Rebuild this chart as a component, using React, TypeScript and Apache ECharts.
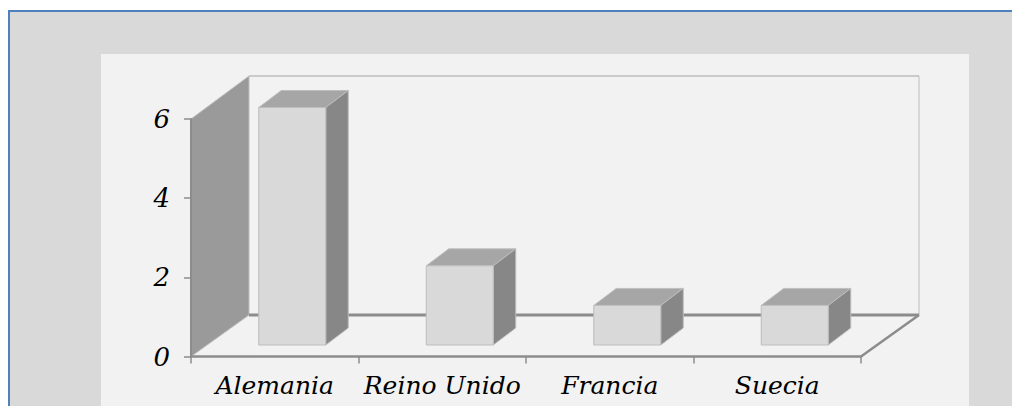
import React, { useEffect, useRef } from "react";
import * as echarts from "echarts";

const categories = ["Alemania", "Reino Unido", "Francia", "Suecia"];
const values = [6, 2, 1, 1];
const valueTicks = { min: 0, max: 6, interval: 2 };

const WIDTH = 1012;
const HEIGHT = 406;
const FONT = "'DejaVu Serif', serif";

// Oblique projection used for the floor and walls of the 3D box
const DEPTH_X = 58;
const DEPTH_Y = -41.5;
const WALL_EXTRA = 1.5;
// Column box depth, and where a column sits inside the floor
const BAR_DEPTH_X = 22.5;
const BAR_DEPTH_Y = -17;
const BAR_SHIFT_X = 17.5;
const BAR_SHIFT_Y = -11.5;
const BAR_BAND_RATIO = 0.4;

const AXIS_COLOR = "#8c8c8c";
const EDGE_COLOR = "#bdbdbd";

function renderFrame(params: any) {
  const { x, y, width, height } = params.coordSys;
  const bottom = y + height;
  const right = x + width;
  const backLeft = x + DEPTH_X;
  const backRight = right + DEPTH_X;
  const backFloor = bottom + DEPTH_Y;
  const backTop = y + DEPTH_Y - WALL_EXTRA;
  const line = (x1: number, y1: number, x2: number, y2: number, stroke: string, lineWidth: number) => ({
    type: "line",
    shape: { x1, y1, x2, y2 },
    style: { stroke, lineWidth, fill: "none" },
  });
  return {
    type: "group",
    children: [
      {
        type: "polygon",
        shape: {
          points: [
            [x, y],
            [backLeft, backTop],
            [backLeft, backFloor],
            [x, bottom],
          ],
        },
        style: { fill: "#9a9a9a", stroke: EDGE_COLOR, lineWidth: 1 },
      },
      line(backLeft, backTop, backRight, backTop, EDGE_COLOR, 1.5),
      line(backRight, backTop, backRight, backFloor, EDGE_COLOR, 1),
      line(backLeft, backFloor, backRight, backFloor, AXIS_COLOR, 3),
      line(right, bottom, backRight, backFloor, AXIS_COLOR, 2.5),
    ],
  };
}

function renderColumn(_params: any, api: any) {
  const [cx, top] = api.coord([api.value(0), api.value(1)]);
  const [, base] = api.coord([api.value(0), 0]);
  const w = api.size([1, 0])[0] * BAR_BAND_RATIO;
  const x0 = cx - w / 2 + BAR_SHIFT_X;
  const x1 = x0 + w;
  const yTop = top + BAR_SHIFT_Y;
  const yBase = base + BAR_SHIFT_Y;
  const dx = BAR_DEPTH_X;
  const dy = BAR_DEPTH_Y;
  const face = (points: number[][], fill: string) => ({
    type: "polygon",
    shape: { points },
    style: { fill, stroke: EDGE_COLOR, lineWidth: 1 },
  });
  return {
    type: "group",
    children: [
      face(
        [
          [x0, yTop],
          [x0 + dx, yTop + dy],
          [x1 + dx, yTop + dy],
          [x1, yTop],
        ],
        "#a6a6a6"
      ),
      face(
        [
          [x1, yTop],
          [x1 + dx, yTop + dy],
          [x1 + dx, yBase + dy],
          [x1, yBase],
        ],
        "#878787"
      ),
      face(
        [
          [x0, yTop],
          [x1, yTop],
          [x1, yBase],
          [x0, yBase],
        ],
        "#d9d9d9"
      ),
    ],
  };
}

export default function App() {
  const ref = useRef<HTMLDivElement>(null);

  useEffect(() => {
    document.body.style.margin = "0";
    const chart = echarts.init(ref.current!, undefined, { renderer: "svg" });
    chart.setOption({
      animation: false,
      backgroundColor: "#ffffff",
      graphic: {
        elements: [
          {
            type: "rect",
            z: -20,
            silent: true,
            shape: { x: 9, y: 11, width: WIDTH + 20, height: HEIGHT + 20 },
            style: { fill: "#d9d9d9", stroke: "#4f81bd", lineWidth: 2 },
          },
          {
            type: "rect",
            z: -10,
            silent: true,
            shape: { x: 101, y: 54, width: 868, height: HEIGHT },
            style: { fill: "#f2f2f2" },
          },
        ],
      },
      grid: { left: 191, top: 119, width: 670, height: 237.5 },
      xAxis: {
        type: "category",
        data: categories,
        z: 5,
        axisLine: { lineStyle: { color: AXIS_COLOR, width: 2.5 } },
        axisTick: { show: true, length: 7, lineStyle: { color: AXIS_COLOR, width: 1.5 } },
        axisLabel: {
          color: "#000000",
          fontFamily: FONT,
          fontStyle: "italic",
          fontSize: 25,
          margin: 16,
          interval: 0,
        },
      },
      yAxis: {
        type: "value",
        ...valueTicks,
        z: 5,
        splitLine: { show: false },
        axisLine: { show: true, lineStyle: { color: AXIS_COLOR, width: 2 } },
        axisTick: { show: true, length: 7, lineStyle: { color: AXIS_COLOR, width: 1.5 } },
        axisLabel: {
          color: "#000000",
          fontFamily: FONT,
          fontStyle: "italic",
          fontSize: 26,
          margin: 21,
        },
      },
      series: [
        {
          type: "custom",
          z: 1,
          silent: true,
          renderItem: renderFrame,
          data: [[0, 0]],
        },
        {
          type: "custom",
          z: 2,
          renderItem: renderColumn,
          encode: { x: 0, y: 1 },
          data: categories.map((_, i) => [i, values[i]]),
        },
      ],
    });
    return () => chart.dispose();
  }, []);

  return <div ref={ref} style={{ width: WIDTH, height: HEIGHT }} />;
}
